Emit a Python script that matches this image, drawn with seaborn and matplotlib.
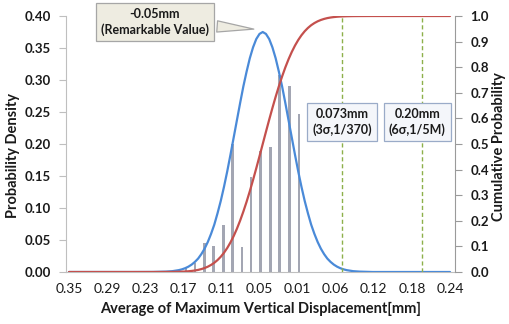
import numpy as np
import pandas as pd
import matplotlib
matplotlib.use("Agg")
import matplotlib.pyplot as plt
from matplotlib.ticker import FixedLocator, FixedFormatter
import seaborn as sns

# ---------------- data ----------------
curve_x = [-0.35, -0.30, -0.25, -0.22, -0.20, -0.19, -0.18, -0.175, -0.17, -0.165,
           -0.16, -0.155, -0.15, -0.145, -0.14, -0.135, -0.13, -0.125, -0.12, -0.115,
           -0.11, -0.105, -0.10, -0.095, -0.09, -0.085, -0.08, -0.075, -0.07, -0.065,
           -0.06, -0.055, -0.05, -0.045, -0.04, -0.035, -0.03, -0.025, -0.02, -0.015,
           -0.01, -0.005, 0.0, 0.005, 0.01, 0.015, 0.02, 0.025, 0.03, 0.035,
           0.04, 0.045, 0.05, 0.055, 0.06, 0.065, 0.07, 0.075, 0.08, 0.09,
           0.10, 0.12, 0.15, 0.20, 0.24]
pdf_vals = [0.0, 0.0, 0.0, 0.0001, 0.0006, 0.0013, 0.0029, 0.0042, 0.006, 0.0084,
            0.0116, 0.0158, 0.021, 0.028, 0.0365, 0.047, 0.0596, 0.074, 0.0917, 0.111,
            0.133, 0.157, 0.183, 0.210, 0.237, 0.264, 0.290, 0.313, 0.334, 0.351,
            0.364, 0.372, 0.375, 0.372, 0.364, 0.351, 0.334, 0.313, 0.290, 0.264,
            0.237, 0.210, 0.183, 0.157, 0.133, 0.111, 0.0917, 0.074, 0.0596, 0.047,
            0.0365, 0.028, 0.021, 0.0158, 0.0116, 0.0084, 0.006, 0.0042, 0.0029, 0.0013,
            0.0006, 0.0, 0.0, 0.0, 0.0]
cdf_vals = [0.0, 0.0, 0.0, 0.0, 0.0002, 0.0004, 0.0009, 0.0014, 0.0020, 0.0029,
            0.0042, 0.0059, 0.0082, 0.0114, 0.0155, 0.0208, 0.0276, 0.0360, 0.0466, 0.0595,
            0.0751, 0.0936, 0.1153, 0.1403, 0.1688, 0.2007, 0.2361, 0.2743, 0.3156, 0.3594,
            0.4052, 0.4522, 0.5, 0.5478, 0.5948, 0.6406, 0.6844, 0.7257, 0.7639, 0.7993,
            0.8312, 0.8597, 0.8847, 0.9064, 0.9249, 0.9405, 0.9534, 0.9640, 0.9724, 0.9792,
            0.9845, 0.9886, 0.9918, 0.9941, 0.9958, 0.9971, 0.9980, 0.9986, 0.9991, 0.9996,
            0.9998, 1.0, 1.0, 1.0, 1.0]

bar_x = [-0.169, -0.155, -0.140, -0.126, -0.111, -0.097, -0.082, -0.068, -0.053,
         -0.038, -0.024, -0.009, 0.006]
bar_h = [0.006, 0.014, 0.045, 0.040, 0.073, 0.200, 0.039, 0.148, 0.189,
         0.195, 0.308, 0.290, 0.247]

tick_pos = [-0.35, -0.291, -0.232, -0.173, -0.114, -0.055, 0.004, 0.063, 0.122, 0.181, 0.24]
tick_labels = ["0.35", "0.29", "0.23", "0.17", "0.11", "0.05", "0.01", "0.06", "0.12", "0.18", "0.24"]
left_ticks = [0.0, 0.05, 0.10, 0.15, 0.20, 0.25, 0.30, 0.35, 0.40]
left_labels = ["0.00", "0.05", "0.10", "0.15", "0.20", "0.25", "0.30", "0.35", "0.40"]
right_ticks = [0.0, 0.1, 0.2, 0.3, 0.4, 0.5, 0.6, 0.7, 0.8, 0.9, 1.0]
right_labels = ["0.0", "0.1", "0.2", "0.3", "0.4", "0.5", "0.6", "0.7", "0.8", "0.9", "1.0"]

vline_x = [0.073, 0.196]
box_texts = ["0.073mm\n(3σ,1/370)", "0.20mm\n(6σ,1/5M)"]
callout_text = "-0.05mm\n(Remarkable Value)"

# ---------------- style ----------------
sns.set_style("white")
plt.rcParams["font.family"] = ["Lato", "DejaVu Sans"]
TXT = "#1a1a1a"

W, H = 509, 324
fig = plt.figure(figsize=(W / 100, H / 100), dpi=100)
L, R, B, T = 66, 455, 272, 16
ax = fig.add_axes([L / W, 1 - B / H, (R - L) / W, (B - T) / H])

bars = pd.DataFrame({"x": bar_x, "h": bar_h})
sns.barplot(data=bars, x="x", y="h", native_scale=True, width=0.3,
            color="#a3a6b3", saturation=1, linewidth=0, ax=ax, zorder=2)

curves = pd.DataFrame({"x": curve_x, "pdf": pdf_vals, "cdf": cdf_vals})
sns.lineplot(data=curves, x="x", y="pdf", color="#4a8ad8", lw=1.6, ax=ax, zorder=3)

ax.set_xlim(-0.3546, 0.2477)
ax.set_ylim(0, 0.40)
ax.yaxis.set_major_locator(FixedLocator(left_ticks))
ax.yaxis.set_major_formatter(FixedFormatter(left_labels))
ax.xaxis.set_major_locator(FixedLocator(tick_pos))
ax.xaxis.set_major_formatter(FixedFormatter(tick_labels))
ax.tick_params(axis="x", length=0, pad=8, labelsize=10, labelcolor=TXT)
ax.tick_params(axis="y", length=5, width=0.8, color="#bfbfbf", pad=6, left=True,
               labelsize=9.5, labelcolor=TXT)
ax.set_xlabel("")
ax.set_ylabel("")
for s in ["top", "right"]:
    ax.spines[s].set_visible(False)
ax.spines["left"].set_color("#bfbfbf")
ax.spines["bottom"].set_color("#bfbfbf")

ax2 = ax.twinx()
sns.lineplot(data=curves, x="x", y="cdf", color="#c4504d", lw=1.6, ax=ax2, zorder=3)
ax2.set_ylim(0, 1.0)
ax2.set_xlim(-0.3546, 0.2477)
ax2.yaxis.set_major_locator(FixedLocator(right_ticks))
ax2.yaxis.set_major_formatter(FixedFormatter(right_labels))
ax2.tick_params(axis="y", length=5, width=0.8, color="#9a9a9a", pad=6, right=True,
                labelsize=9.5, labelcolor=TXT)
ax2.set_ylabel("")
ax2.set_xlabel("")
for s in ["top", "left", "bottom"]:
    ax2.spines[s].set_visible(False)
ax2.spines["right"].set_color("#9a9a9a")

for lab in ax.get_yticklabels() + ax2.get_yticklabels():
    lab.set_fontweight("bold")

for vx in vline_x:
    ax2.plot([vx, vx], [0, 1.0], color="#8db04a", lw=1.0, ls=(0, (3, 2)), zorder=2)

box_y = 0.586
for vx, txt in zip([0.0726, 0.1895], box_texts):
    ax2.text(vx, box_y, txt, ha="center", va="center", fontsize=9,
             fontweight="bold", color=TXT, zorder=10,
             bbox=dict(boxstyle="square,pad=0.4", fc="#f4f6fa", ec="#9aabc8", lw=0.9),
             linespacing=1.3)

ax2.annotate(callout_text, xy=(-0.0595, 0.948), xytext=(-0.2169, 0.977),
             ha="center", va="center", fontsize=9, fontweight="bold",
             color=TXT, zorder=10, linespacing=1.3,
             bbox=dict(boxstyle="square,pad=0.4", fc="#eeece1", ec="#a6a6a6", lw=0.9),
             arrowprops=dict(arrowstyle="wedge,tail_width=0.9,shrink_factor=0.5",
                             fc="#eeece1", ec="#a6a6a6", lw=0.9))

fig.text(261 / W, 1 - 309 / H, "Average of Maximum Vertical Displacement[mm]",
         ha="center", va="center", fontsize=10.5, fontweight="bold", color=TXT)
fig.text(13 / W, 1 - 155 / H, "Probability Density", rotation=90,
         ha="center", va="center", fontsize=10.5, fontweight="bold", color=TXT)
fig.text(499 / W, 1 - 147 / H, "Cumulative Probability", rotation=90,
         ha="center", va="center", fontsize=10.5, fontweight="bold", color=TXT)

fig.savefig("out.png", dpi=100)
